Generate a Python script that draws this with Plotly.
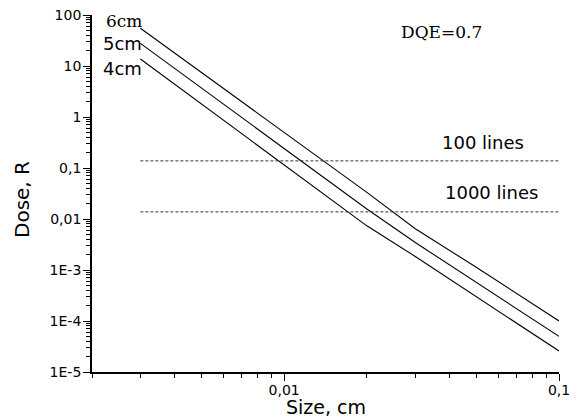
import plotly.graph_objects as go
import numpy as np

# ---- data ----
sizes = [0.003, 0.01, 0.02, 0.03, 0.05, 0.1]
dose_4cm = [13.7, 0.117, 7.35e-3, 1.84e-3, 3.03e-4, 2.58e-5]
dose_5cm = [27.8, 0.243, 0.0157, 3.46e-3, 5.75e-4, 5.0e-5]
dose_6cm = [54.8, 0.50, 0.0333, 6.45e-3, 1.13e-3, 1.0e-4]

line_x = [0.003, 0.1]
dose_100_lines = 0.138
dose_1000_lines = 0.0138

y_tickvals = [100, 10, 1, 0.1, 0.01, 1e-3, 1e-4, 1e-5]
y_ticktext = ["100", "10", "1", "0,1", "0,01", "1E-3", "1E-4", "1E-5"]
x_tickvals = [0.01, 0.1]
x_ticktext = ["0,01", "0,1"]

# page has an 8px body margin: compensate so the plot lands at x 92-559, y 15-372
OFF = 8
W, H = 579 - OFF, 420 - OFF
L, R, T, B = 92 - OFF, 20, 15 - OFF, 48
PX0, PX1, PY0, PY1 = 92, 559, 15, 372


def px(xp, yp):
    return (xp - PX0) / (PX1 - PX0), (PY1 - yp) / (PY1 - PY0)


fig = go.Figure()
for d in (dose_4cm, dose_5cm, dose_6cm):
    fig.add_trace(go.Scatter(x=sizes, y=d, mode="lines",
                             line=dict(color="black", width=1.1),
                             showlegend=False, hoverinfo="skip"))
for v in (dose_100_lines, dose_1000_lines):
    fig.add_trace(go.Scatter(x=line_x, y=[v, v], mode="lines",
                             line=dict(color="#333", width=1, dash="3px,2px"),
                             showlegend=False, hoverinfo="skip"))

y_minor = [m * 10.0 ** e for e in range(-5, 2) for m in range(2, 10)]
x_minor = [m * 10.0 ** e for e in (-3, -2) for m in range(2, 10)]

axis_common = dict(showline=True, linecolor="black", linewidth=1.8,
                   ticks="outside", tickcolor="black", tickwidth=1.3,
                   ticklen=7, showgrid=False, zeroline=False,
                   ticklabeloverflow="allow", automargin=False,
                   tickfont=dict(family="DejaVu Sans", size=14, color="black"))

fig.update_xaxes(type="log", range=[np.log10(0.002), -1],
                 tickmode="array", tickvals=x_tickvals, ticktext=x_ticktext,
                 ticklabelstandoff=-3,
                 minor=dict(tickvals=x_minor, ticks="outside", ticklen=4,
                            tickcolor="black", tickwidth=1.2),
                 **axis_common)
fig.update_yaxes(type="log", range=[-5, 2],
                 tickmode="array", tickvals=y_tickvals, ticktext=y_ticktext,
                 ticklabelstandoff=-1,
                 minor=dict(tickvals=y_minor, ticks="outside", ticklen=4,
                            tickcolor="black", tickwidth=1.2),
                 **axis_common)

sans = dict(family="DejaVu Sans", size=18, color="black")
serif = dict(family="DejaVu Serif", size=17, color="black")
annots = [
    ("6cm", 124, 21, serif),
    ("5cm", 122, 43, sans),
    ("4cm", 122, 68, sans),
    ("DQE=0.7", 441, 32, serif),
    ("100 lines", 483, 142, sans),
    ("1000 lines", 491, 192, sans),
]
for text, x, y, f in annots:
    xp, yp = px(x, y)
    fig.add_annotation(x=xp, y=yp, xref="paper", yref="paper", text=text,
                       showarrow=False, font=f, xanchor="center", yanchor="middle")

xp, yp = px(326, 407)
fig.add_annotation(x=xp, y=yp, xref="paper", yref="paper", text="Size, cm",
                   showarrow=False, font=dict(family="DejaVu Sans", size=19, color="black"),
                   xanchor="center", yanchor="middle")
xp, yp = px(22, 200)
fig.add_annotation(x=xp, y=yp, xref="paper", yref="paper", text="Dose, R",
                   showarrow=False, textangle=-90,
                   font=dict(family="DejaVu Sans", size=20, color="black"),
                   xanchor="center", yanchor="middle")

fig.update_layout(width=W, height=H, margin=dict(l=L, r=R, t=T, b=B, autoexpand=False),
                  plot_bgcolor="white", paper_bgcolor="white")
fig.write_html("out.html")
